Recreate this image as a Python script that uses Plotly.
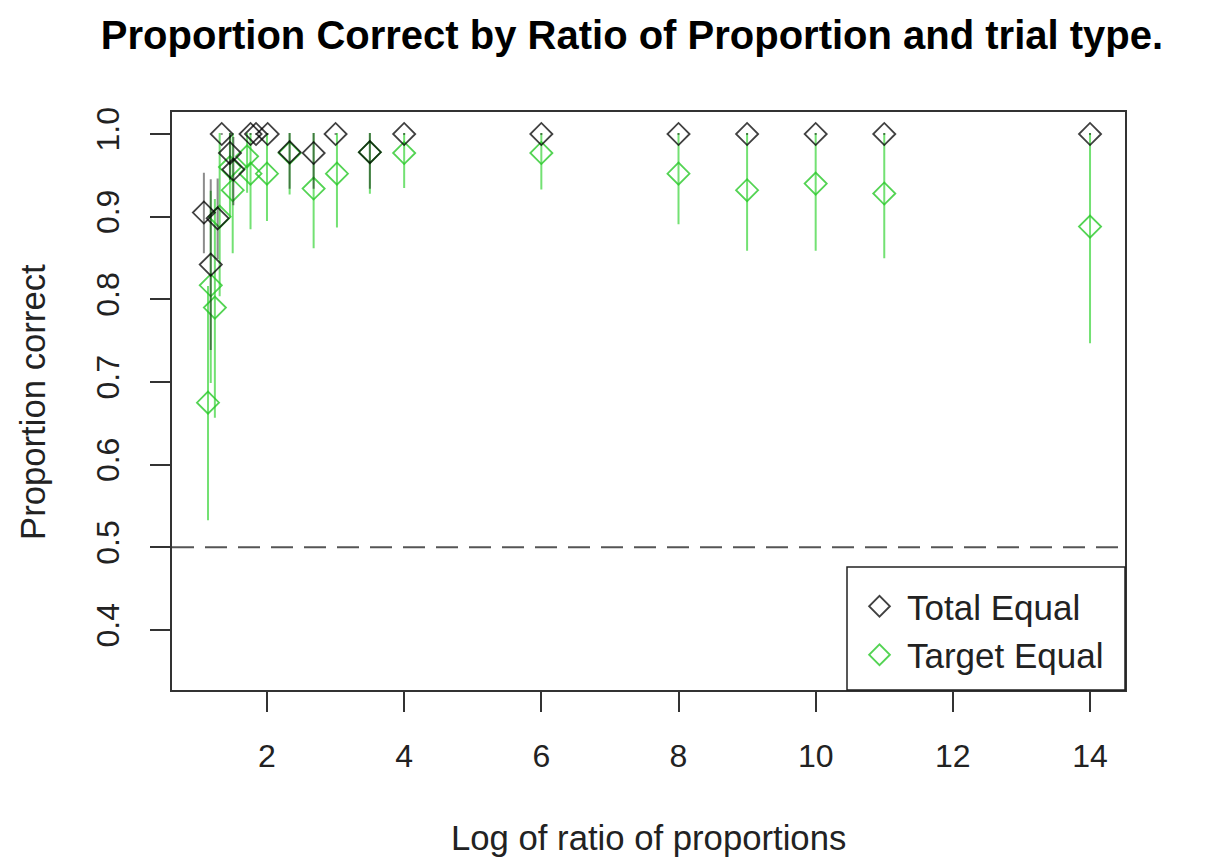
import numpy as np
import plotly.graph_objects as go

# Log of ratio of proportions (x) and proportion correct (y), with CI bounds
total_x = [1.08, 1.18, 1.28, 1.34, 1.46, 1.51, 1.76, 1.84, 2.01, 2.33, 2.68, 3.0, 3.5, 4, 6, 8, 9, 10, 11, 14]
total_y = [0.905, 0.842, 0.898, 1.0, 0.977, 0.957, 1.0, 1.0, 1.0, 0.978, 0.977, 1.0, 0.978, 1.0, 1.0, 1.0, 1.0, 1.0, 1.0, 1.0]
total_lo = [0.857, 0.74, 0.85, 1.0, 0.946, 0.915, 1.0, 1.0, 1.0, 0.935, 0.935, 1.0, 0.935, 1.0, 1.0, 1.0, 1.0, 1.0, 1.0, 1.0]
total_hi = [0.952, 0.944, 0.945, 1.0, 1.0, 0.995, 1.0, 1.0, 1.0, 1.0, 1.0, 1.0, 1.0, 1.0, 1.0, 1.0, 1.0, 1.0, 1.0, 1.0]

target_x = [1.14, 1.18, 1.24, 1.31, 1.46, 1.50, 1.71, 1.76, 2.0, 2.33, 2.68, 3.02, 3.5, 4, 6, 8, 9, 10, 11, 14]
target_y = [0.675, 0.817, 0.790, 0.900, 0.960, 0.932, 0.973, 0.952, 0.952, 0.977, 0.934, 0.952, 0.978, 0.977, 0.977, 0.952, 0.932, 0.940, 0.928, 0.888]
target_lo = [0.534, 0.70, 0.658, 0.805, 0.90, 0.857, 0.93, 0.886, 0.896, 0.928, 0.863, 0.888, 0.929, 0.936, 0.934, 0.892, 0.860, 0.860, 0.851, 0.748]
target_hi = [0.815, 0.93, 0.92, 1.0, 1.0, 1.0, 1.0, 1.0, 1.0, 1.0, 1.0, 1.0, 1.0, 1.0, 1.0, 1.0, 1.0, 1.0, 1.0, 1.0]

x_ticks = [2, 4, 6, 8, 10, 12, 14]
y_ticks = [0.4, 0.5, 0.6, 0.7, 0.8, 0.9, 1.0]
chance = 0.5

FONT = "Liberation Sans, Arial, sans-serif"
W, H = 1206, 859
L, R, T, B = 172, 81, 112, 169
PW, PH = W - L - R, H - T - B


def err(y, lo, hi):
    y, lo, hi = map(np.asarray, (y, lo, hi))
    return hi - y, y - lo


def px_x(p):
    return (p - L) / PW


def px_y(p):
    return (H - B - p) / PH


fig = go.Figure()

up, down = err(target_y, target_lo, target_hi)
fig.add_trace(go.Scatter(
    x=target_x, y=target_y, mode="markers", name="Target Equal",
    marker=dict(symbol="diamond-open", size=17, color="rgba(40,200,40,0.8)",
                line=dict(width=1.8, color="rgba(40,200,40,0.8)")),
    error_y=dict(type="data", array=up, arrayminus=down, width=1,
                 thickness=2, color="rgba(0,200,0,0.55)"),
))

up, down = err(total_y, total_lo, total_hi)
fig.add_trace(go.Scatter(
    x=total_x, y=total_y, mode="markers", name="Total Equal",
    marker=dict(symbol="diamond-open", size=17, color="rgba(0,0,0,0.75)",
                line=dict(width=1.8, color="rgba(0,0,0,0.75)")),
    error_y=dict(type="data", array=up, arrayminus=down, width=1,
                 thickness=2, color="rgba(0,0,0,0.45)"),
))

# chance line
fig.add_shape(type="line", xref="paper", x0=0, x1=1, yref="y", y0=chance, y1=chance,
              line=dict(color="#555555", width=2, dash="22px,11px"), layer="below")

# legend frame in the lower-right corner
fig.add_shape(type="rect", xref="paper", yref="paper",
              x0=px_x(847), x1=1, y0=0, y1=px_y(567),
              fillcolor="white", line=dict(color="#222222", width=1.5), layer="above")

fig.update_layout(
    width=W, height=H,
    margin=dict(l=L, r=R, t=T, b=B),
    paper_bgcolor="white", plot_bgcolor="white",
    font=dict(family=FONT, size=32, color="#222222"),
    title=dict(text="<b>Proportion Correct by Ratio of Proportion and trial type.</b>",
               x=632 / W, xref="container", xanchor="center",
               y=1 - 35 / H, yref="container", yanchor="middle",
               font=dict(family=FONT, size=40, color="black")),
    showlegend=True,
    legend=dict(x=px_x(852), y=px_y(577), xanchor="left", yanchor="top",
                traceorder="reversed", bgcolor="rgba(0,0,0,0)", borderwidth=0,
                font=dict(family=FONT, size=35, color="#222222"),
                itemwidth=45, tracegroupgap=0),
    xaxis=dict(range=[0.615, 14.51], tickvals=x_ticks, ticks="outside", ticklen=20,
               tickwidth=1.5, tickcolor="#333333", showgrid=False, zeroline=False,
               showline=True, linecolor="#333333", linewidth=1.5, mirror=True,
               ticklabelstandoff=17, tickfont=dict(size=32)),
    yaxis=dict(range=[0.3274, 1.0266], tickvals=y_ticks, ticktext=[f"{v:.1f}" for v in y_ticks],
               ticks="outside", ticklen=20, tickwidth=1.5, tickcolor="#333333",
               showgrid=False, zeroline=False, showline=True, linecolor="#333333",
               linewidth=1.5, mirror=True, tickangle=-90, ticklabelstandoff=18,
               tickfont=dict(size=32)),
    annotations=[
        dict(text="Log of ratio of proportions", xref="paper", yref="paper",
             x=0.5, y=px_y(838), xanchor="center", yanchor="middle",
             showarrow=False, font=dict(family=FONT, size=34.7, color="#222222")),
        dict(text="Proportion correct", xref="paper", yref="paper",
             x=px_x(33), y=px_y(402), xanchor="center", yanchor="middle",
             textangle=-90, showarrow=False, font=dict(family=FONT, size=34.7, color="#222222")),
    ],
)

fig.write_html("out.html")
